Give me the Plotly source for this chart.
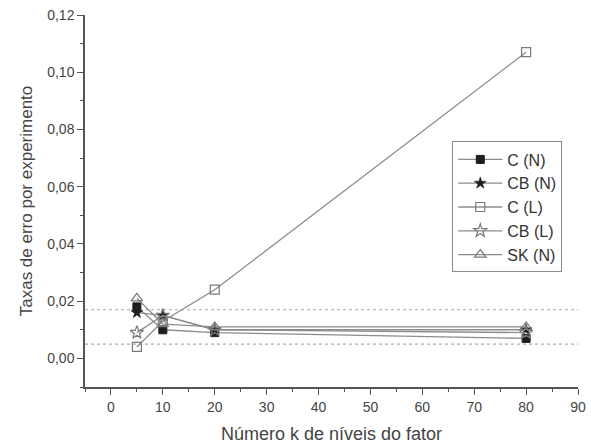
import plotly.graph_objects as go

# Number of factor levels (k)
k_levels = [5, 10, 20, 80]

# Experiment-wise error rates per method
series_names = ["C (N)", "CB (N)", "C (L)", "CB (L)", "SK (N)"]
c_n = [0.018, 0.010, 0.009, 0.007]
cb_n = [0.016, 0.015, 0.010, 0.010]
c_l = [0.004, 0.013, 0.024, 0.107]
cb_l = [0.009, 0.015, 0.010, 0.009]
sk_n = [0.021, 0.012, 0.011, 0.011]

# Reference band limits (dotted horizontal lines)
band_limits = [0.017, 0.005]

x_ticks = [0, 10, 20, 30, 40, 50, 60, 70, 80, 90]
y_ticks = [0.00, 0.02, 0.04, 0.06, 0.08, 0.10, 0.12]

line_color = "#8c8c8c"
axis_color = "#555555"
text_color = "#444444"
font_family = "Arial, 'Liberation Sans', sans-serif"

styles = [
    dict(symbol="square", color="#1e1e1e", line=dict(color="#1e1e1e", width=1), size=8),
    dict(symbol="star", color="#1e1e1e", line=dict(color="#1e1e1e", width=0.5), size=9),
    dict(symbol="square-open", color="#7a7a7a", line=dict(color="#7a7a7a", width=1.2), size=9),
    dict(symbol="star-open", color="#7a7a7a", line=dict(color="#7a7a7a", width=1.2), size=10),
    dict(symbol="triangle-up-open", color="#7a7a7a", line=dict(color="#7a7a7a", width=1.2), size=10),
]

fig = go.Figure()
for name, values, mk in zip(series_names, [c_n, cb_n, c_l, cb_l, sk_n], styles):
    fig.add_trace(go.Scatter(
        x=k_levels, y=values, name=name, mode="lines+markers",
        line=dict(color=line_color, width=1.3),
        marker=mk,
    ))

for level in band_limits:
    fig.add_shape(type="line", xref="paper", x0=0, x1=1, yref="y", y0=level, y1=level,
                  line=dict(color="#aaaaaa", width=1.2, dash="dot"), layer="below")

fig.update_layout(
    width=591, height=446,
    margin=dict(l=85, r=13, t=15, b=59),
    paper_bgcolor="white", plot_bgcolor="white",
    separators=",.",
    font=dict(family=font_family, color=text_color, size=14),
    showlegend=True,
    legend=dict(
        x=0.745, y=0.66, xanchor="left", yanchor="top",
        bordercolor="#8a8a8a", borderwidth=1, bgcolor="white",
        font=dict(size=16, color="#333333"),
        itemwidth=44, tracegroupgap=0,
    ),
    xaxis=dict(
        range=[-5, 90], tickvals=x_ticks, showgrid=False, zeroline=False,
        showline=True, linecolor=axis_color, linewidth=1.5, automargin=False,
        ticks="outside", ticklen=6, tickcolor=axis_color, tickwidth=1.3,
        tickfont=dict(size=14, color=text_color),
        minor=dict(dtick=5, tick0=0, ticks="outside", ticklen=3, tickcolor=axis_color, tickwidth=1.3),
        title=dict(text="Número k de níveis do fator", font=dict(size=18, color=text_color), standoff=14),
    ),
    yaxis=dict(
        range=[-0.01, 0.12], tickvals=y_ticks, tickformat=".2f", showgrid=False, zeroline=False,
        showline=True, linecolor=axis_color, linewidth=1.5, automargin=False,
        ticks="outside", ticklen=6, tickcolor=axis_color, tickwidth=1.3,
        tickfont=dict(size=14, color=text_color),
        minor=dict(dtick=0.01, tick0=0, ticks="outside", ticklen=3, tickcolor=axis_color, tickwidth=1.3),
        title=dict(text="Taxas de erro por experimento", font=dict(size=17, color=text_color), standoff=10),
    ),
)

fig.write_html("out.html")
